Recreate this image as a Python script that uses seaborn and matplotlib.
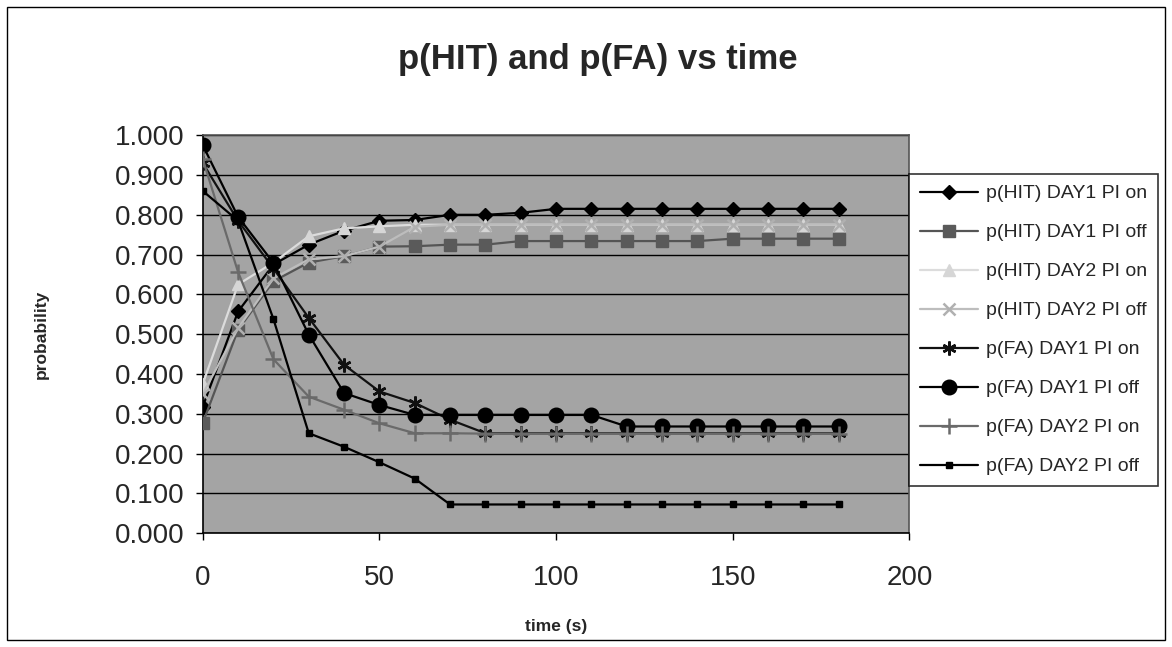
import numpy as np
import pandas as pd
import seaborn as sns
import matplotlib.pyplot as plt
from matplotlib.patches import Rectangle
from matplotlib.ticker import FormatStrFormatter

# time axis (s)
time_s = [0, 10, 20, 30, 40, 50, 60, 70, 80, 90, 100, 110, 120, 130, 140, 150, 160, 170, 180]

# values
hit_day1_on = [0.318, 0.557, 0.675, 0.725, 0.760, 0.785, 0.787, 0.800, 0.800, 0.805,
               0.815, 0.815, 0.815, 0.815, 0.815, 0.815, 0.815, 0.815, 0.815]
hit_day1_off = [0.277, 0.511, 0.633, 0.680, 0.696, 0.720, 0.721, 0.725, 0.725, 0.734,
                0.734, 0.734, 0.734, 0.734, 0.734, 0.740, 0.740, 0.740, 0.740]
hit_day2_on = [0.375, 0.625, 0.680, 0.746, 0.766, 0.771, 0.775, 0.775, 0.775, 0.775,
               0.775, 0.775, 0.775, 0.775, 0.775, 0.775, 0.775, 0.775, 0.775]
hit_day2_off = [0.350, 0.515, 0.640, 0.688, 0.696, 0.720, 0.770, 0.775, 0.775, 0.775,
                0.775, 0.775, 0.775, 0.775, 0.775, 0.775, 0.775, 0.775, 0.775]
fa_day1_on = [0.930, 0.785, 0.665, 0.541, 0.423, 0.356, 0.327, 0.285, 0.251, 0.251,
              0.251, 0.251, 0.251, 0.251, 0.251, 0.251, 0.251, 0.251, 0.251]
fa_day1_off = [0.975, 0.795, 0.679, 0.499, 0.352, 0.322, 0.297, 0.297, 0.297, 0.297,
               0.297, 0.297, 0.268, 0.268, 0.268, 0.268, 0.268, 0.268, 0.268]
fa_day2_on = [0.940, 0.656, 0.437, 0.343, 0.310, 0.276, 0.251, 0.251, 0.250, 0.250,
              0.250, 0.250, 0.250, 0.250, 0.250, 0.250, 0.250, 0.250, 0.250]
fa_day2_off = [0.860, 0.785, 0.538, 0.251, 0.217, 0.178, 0.137, 0.072, 0.072, 0.072,
               0.072, 0.072, 0.072, 0.072, 0.072, 0.072, 0.072, 0.072, 0.072]

labels = ['p(HIT) DAY1 PI on', 'p(HIT) DAY1 PI off', 'p(HIT) DAY2 PI on', 'p(HIT) DAY2 PI off',
          'p(FA) DAY1 PI on', 'p(FA) DAY1 PI off', 'p(FA) DAY2 PI on', 'p(FA) DAY2 PI off']
series = [hit_day1_on, hit_day1_off, hit_day2_on, hit_day2_off,
          fa_day1_on, fa_day1_off, fa_day2_on, fa_day2_off]

# line colour, marker colour, marker, marker size
styles = {
    'p(HIT) DAY1 PI on': ('black', 'black', 'D', 7),
    'p(HIT) DAY1 PI off': ('#555555', '#5a5a5a', 's', 8),
    'p(HIT) DAY2 PI on': ('#dcdcdc', '#d6d6d6', '^', 9),
    'p(HIT) DAY2 PI off': ('#bdbdbd', '#b0b0b0', 'x', 9),
    'p(FA) DAY1 PI on': ('#111111', '#111111', (6, 2, 0), 10),
    'p(FA) DAY1 PI off': ('black', 'black', 'o', 10.5),
    'p(FA) DAY2 PI on': ('#6a6a6a', '#6a6a6a', '+', 11),
    'p(FA) DAY2 PI off': ('black', 'black', 's', 4.5),
}

df = pd.concat([pd.DataFrame({'time': time_s, 'p': vals, 'series': lab})
                for lab, vals in zip(labels, series)], ignore_index=True)

sns.set_style('white')
plt.rcParams['font.family'] = ['Liberation Sans', 'DejaVu Sans']

fig = plt.figure(figsize=(11.72, 6.47), dpi=100)
ax = fig.add_axes([0.173, 0.176, 0.603, 0.615])
ax.set_facecolor('#a4a4a4')

for lab in labels:
    lc, mc, mk, ms = styles[lab]
    sns.lineplot(data=df[df['series'] == lab], x='time', y='p', ax=ax, color=lc,
                 marker=mk, markersize=ms, markerfacecolor=mc, markeredgecolor=mc,
                 markeredgewidth=1.8 if mk in ('x', '+', (6, 2, 0)) else 1,
                 linewidth=1.6, label=lab, zorder=3)

ax.set_xlim(0, 200)
ax.set_ylim(0, 1)
ax.set_xticks([0, 50, 100, 150, 200])
ax.set_yticks(np.arange(0, 1.01, 0.1))
ax.yaxis.set_major_formatter(FormatStrFormatter('%.3f'))
ax.tick_params(axis='both', labelsize=20, direction='out', length=5, width=1, color='black')
ax.tick_params(axis='y', pad=8, left=True)
ax.tick_params(axis='x', pad=18, bottom=True)
ax.yaxis.grid(True, color='black', linewidth=1)
ax.xaxis.grid(False)
ax.set_axisbelow(True)
for side in ['left', 'bottom']:
    ax.spines[side].set_color('black')
    ax.spines[side].set_linewidth(1.2)
for side in ['top', 'right']:
    ax.spines[side].set_color('#555555')
    ax.spines[side].set_linewidth(1.2)

ax.set_xlabel('time (s)', fontsize=12.5, fontweight='bold', labelpad=20)
ax.set_ylabel('probability', fontsize=12.5, fontweight='bold', labelpad=48)

fig.suptitle('p(HIT) and p(FA) vs time', fontsize=25, fontweight='bold', x=0.51, y=0.934)

handles, labs = ax.get_legend_handles_labels()
ax.get_legend().remove()
leg = fig.legend(handles, labs, loc='upper left', bbox_to_anchor=(0.7755, 0.731),
                 fontsize=14, frameon=True, fancybox=False, edgecolor='black',
                 handlelength=3.0, labelspacing=1.1, borderpad=0.55, handletextpad=0.4,
                 borderaxespad=0)
leg.get_frame().set_linewidth(1.2)

# chart area border
fig.patches.append(Rectangle((0.006, 0.011), 0.988, 0.978, transform=fig.transFigure,
                             fill=False, edgecolor='black', linewidth=1))

fig.savefig('out.png', dpi=100)
